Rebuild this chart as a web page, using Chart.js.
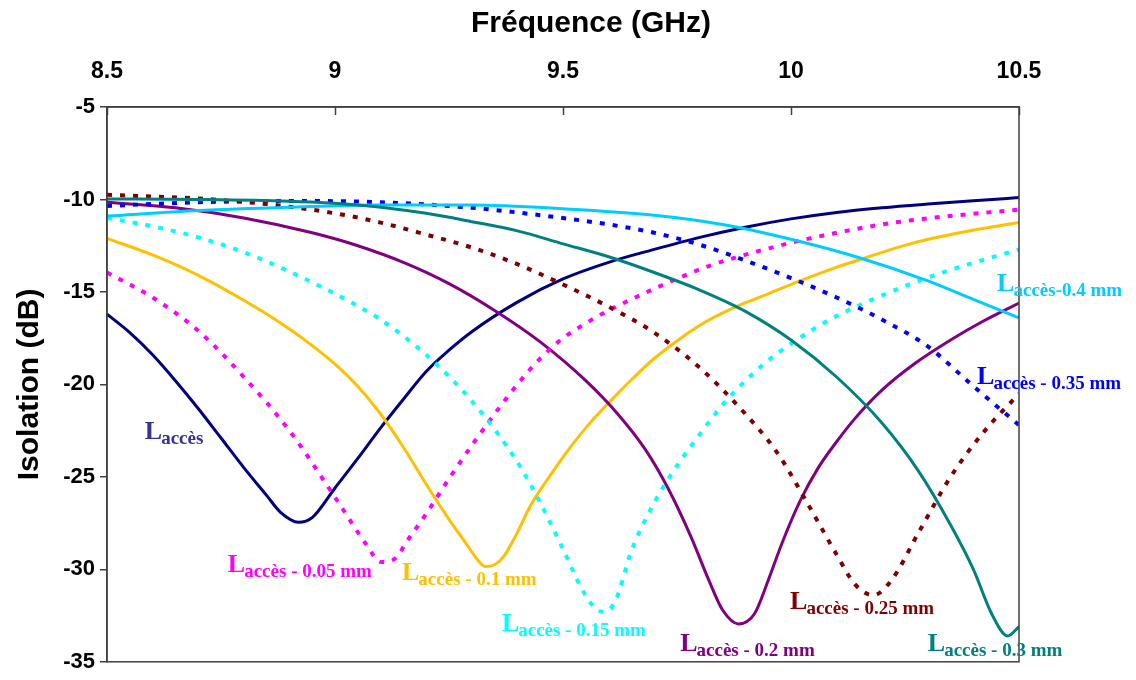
<!DOCTYPE html>
<html lang="fr">
<head>
<meta charset="utf-8">
<title>Isolation - longueur d'accès</title>
<script src="https://cdn.jsdelivr.net/npm/chart.js@4.4.1/dist/chart.umd.min.js"></script>
<style>
  html, body { margin: 0; padding: 0; background: #fff; }
  #chart { display: block; }
</style>
</head>
<body>
<canvas id="chart" width="1136" height="680"></canvas>
<script>
// axis ticks
const freqTicks = [8.5, 9, 9.5, 10, 10.5];
const isoTicks = [-35, -30, -25, -20, -15, -10, -5];

// curves: frequency (GHz) / isolation (dB)
const laccesF = [8.5, 8.55, 8.6, 8.65, 8.7, 8.75, 8.8, 8.85, 8.88, 8.92, 8.95, 9.0, 9.05, 9.1, 9.15, 9.2, 9.25, 9.3, 9.4, 9.5, 9.6, 9.7, 9.8, 9.9, 10.0, 10.1, 10.2, 10.3, 10.4, 10.5];
const laccesV = [-16.2, -17.2, -18.4, -19.8, -21.3, -22.9, -24.5, -26.0, -26.9, -27.45, -27.2, -25.6, -24.0, -22.35, -20.8, -19.3, -18.15, -17.15, -15.55, -14.3, -13.4, -12.7, -12.05, -11.5, -11.05, -10.7, -10.45, -10.25, -10.07, -9.9];

const l005F = [8.5, 8.6, 8.7, 8.8, 8.9, 9.0, 9.07, 9.10, 9.13, 9.16, 9.2, 9.25, 9.3, 9.35, 9.4, 9.45, 9.5, 9.55, 9.6, 9.65, 9.73, 9.82, 9.95, 10.09, 10.24, 10.39, 10.5];
const l005V = [-13.95, -15.3, -17.1, -19.6, -22.5, -26.1, -28.7, -29.6, -29.45, -28.4, -27.0, -25.1, -23.3, -21.6, -20.0, -18.6, -17.5, -16.7, -16.0, -15.4, -14.5, -13.6, -12.65, -11.85, -11.2, -10.8, -10.55];

const l010F = [8.5, 8.6, 8.7, 8.8, 8.9, 8.95, 9.0, 9.05, 9.1, 9.15, 9.2, 9.25, 9.29, 9.31, 9.33, 9.35, 9.37, 9.40, 9.43, 9.47, 9.51, 9.55, 9.60, 9.65, 9.70, 9.75, 9.80, 9.87, 9.95, 10.02, 10.09, 10.17, 10.24, 10.31, 10.39, 10.5];
const l010V = [-12.1, -13.0, -14.1, -15.45, -17.0, -17.9, -18.9, -20.1, -21.6, -23.4, -25.4, -27.3, -28.7, -29.4, -29.85, -29.75, -29.3, -28.0, -26.5, -25.0, -23.6, -22.35, -21.0, -19.75, -18.6, -17.65, -16.8, -15.9, -15.1, -14.4, -13.75, -13.1, -12.55, -12.1, -11.7, -11.25];

const l015F = [8.5, 8.6, 8.7, 8.8, 8.9, 9.0, 9.1, 9.2, 9.3, 9.4, 9.45, 9.5, 9.54, 9.57, 9.59, 9.615, 9.65, 9.70, 9.75, 9.80, 9.85, 9.90, 9.95, 10.0, 10.05, 10.1, 10.17, 10.28, 10.39, 10.5];
const l015V = [-11.0, -11.45, -12.05, -12.85, -13.9, -15.1, -16.5, -18.4, -20.9, -24.2, -26.4, -28.9, -31.0, -32.1, -32.3, -31.7, -29.0, -26.4, -24.4, -22.7, -21.1, -19.8, -18.7, -17.8, -17.0, -16.3, -15.5, -14.4, -13.5, -12.7];

const l020F = [8.5, 8.65, 8.8, 8.95, 9.05, 9.15, 9.25, 9.35, 9.45, 9.55, 9.62, 9.68, 9.73, 9.78, 9.82, 9.85, 9.885, 9.92, 9.95, 9.98, 10.02, 10.06, 10.1, 10.14, 10.2, 10.27, 10.35, 10.42, 10.5];
const l020V = [-10.15, -10.45, -11.0, -11.8, -12.5, -13.4, -14.55, -16.0, -17.7, -19.8, -21.6, -23.5, -25.6, -28.2, -30.6, -32.2, -32.95, -32.4, -30.6, -28.6, -26.3, -24.5, -23.1, -21.85, -20.3, -18.9, -17.6, -16.6, -15.6];

const l025F = [8.5, 8.7, 8.85, 9.0, 9.1, 9.2, 9.3, 9.4, 9.5, 9.6, 9.7, 9.8, 9.9, 9.97, 10.04, 10.1, 10.14, 10.18, 10.22, 10.28, 10.35, 10.42, 10.5];
const l025V = [-9.75, -9.95, -10.25, -10.75, -11.25, -11.9, -12.6, -13.5, -14.6, -15.8, -17.2, -19.1, -21.6, -23.7, -26.6, -29.2, -30.8, -31.4, -30.6, -28.0, -25.0, -22.65, -20.5];

const l030F = [8.5, 8.7, 8.9, 9.05, 9.2, 9.3, 9.4, 9.5, 9.6, 9.7, 9.8, 9.9, 10.0, 10.1, 10.2, 10.28, 10.35, 10.4, 10.44, 10.475, 10.5];
const l030V = [-9.97, -10.0, -10.1, -10.3, -10.75, -11.2, -11.7, -12.4, -13.1, -13.95, -14.9, -16.05, -17.6, -19.6, -22.1, -24.7, -27.6, -30.0, -32.4, -33.6, -33.1];

const l035F = [8.5, 8.7, 8.9, 9.1, 9.3, 9.45, 9.6, 9.7, 9.8, 9.9, 10.0, 10.1, 10.2, 10.3, 10.4, 10.5];
const l035V = [-10.35, -10.15, -10.08, -10.15, -10.45, -10.85, -11.35, -11.8, -12.45, -13.3, -14.25, -15.3, -16.5, -17.95, -20.1, -22.2];

const l040F = [8.5, 8.7, 8.9, 9.1, 9.3, 9.5, 9.7, 9.85, 10.0, 10.15, 10.3, 10.4, 10.5];
const l040V = [-10.9, -10.6, -10.42, -10.3, -10.3, -10.5, -10.85, -11.35, -12.15, -13.15, -14.4, -15.4, -16.4];

const FONT = '"Liberation Sans", Arial, sans-serif';
const SERIF = '"Liberation Serif", "Times New Roman", serif';
const DOTS = [5, 8];

const series = [
  { f: l030F, v: l030V, color: '#008080', dash: [] },
  { f: l040F, v: l040V, color: '#00CCFF', dash: [] },
  { f: l025F, v: l025V, color: '#800000', dash: DOTS },
  { f: l035F, v: l035V, color: '#0000FF', dash: DOTS },
  { f: l015F, v: l015V, color: '#00FFFF', dash: DOTS },
  { f: l005F, v: l005V, color: '#FF00FF', dash: DOTS },
  { f: l020F, v: l020V, color: '#800080', dash: [] },
  { f: l010F, v: l010V, color: '#FFC000', dash: [] },
  { f: laccesF, v: laccesV, color: '#000080', dash: [] }
];

// text labels next to the curves, anchored in data units
const curveLabels = [
  { f: 8.583, v: -22.97, sub: 'accès', color: '#333399' },
  { f: 8.765, v: -30.13, sub: 'accès - 0.05 mm', color: '#FF00FF' },
  { f: 9.147, v: -30.6, sub: 'accès - 0.1 mm', color: '#FFC000' },
  { f: 9.366, v: -33.34, sub: 'accès - 0.15 mm', color: '#00FFFF' },
  { f: 9.757, v: -34.41, sub: 'accès - 0.2 mm', color: '#800080' },
  { f: 9.998, v: -32.17, sub: 'accès - 0.25 mm', color: '#800000' },
  { f: 10.30, v: -34.41, sub: 'accès - 0.3 mm', color: '#008080' },
  { f: 10.408, v: -19.97, sub: 'accès - 0.35 mm', color: '#0000FF' },
  { f: 10.452, v: -14.95, sub: 'accès-0.4 mm', color: '#00CCFF' }
];

const decor = {
  id: 'decor',
  afterDatasetsDraw(chart) {
    const { ctx, chartArea: a, scales: { x, y } } = chart;
    ctx.save();
    ctx.strokeStyle = '#404040';
    ctx.lineWidth = 1.5;
    ctx.strokeRect(a.left, a.top, a.right - a.left, a.bottom - a.top);
    // frequency ticks point down into the plot
    freqTicks.forEach(f => {
      const px = Math.round(x.getPixelForValue(f)) + 0.5;
      ctx.beginPath();
      ctx.moveTo(px, a.top);
      ctx.lineTo(px, a.top + 8);
      ctx.stroke();
    });
    // axis title sits a bit right of the plot centre, as in the original
    ctx.fillStyle = '#000';
    ctx.font = 'bold 30px ' + FONT;
    ctx.textAlign = 'center';
    ctx.textBaseline = 'middle';
    ctx.fillText('Fréquence (GHz)', (a.left + a.right) / 2 + 28, 24);

    ctx.textAlign = 'left';
    ctx.textBaseline = 'alphabetic';
    curveLabels.forEach(l => {
      const px = x.getPixelForValue(l.f);
      const py = y.getPixelForValue(l.v);
      ctx.fillStyle = l.color;
      ctx.font = 'bold 26px ' + SERIF;
      ctx.fillText('L', px, py);
      const w = ctx.measureText('L').width;
      ctx.font = 'bold 19px ' + SERIF;
      ctx.fillText(l.sub, px + w - 1, py + 5);
    });
    ctx.restore();
  }
};

new Chart(document.getElementById('chart'), {
  type: 'line',
  data: {
    datasets: series.map(s => ({
      data: s.f.map((f, i) => ({ x: f, y: s.v[i] })),
      borderColor: s.color,
      borderWidth: s.dash.length ? 4 : 3,
      borderDash: s.dash,
      pointRadius: 0,
      fill: false,
      cubicInterpolationMode: 'monotone'
    }))
  },
  options: {
    responsive: false,
    animation: false,
    layout: { padding: { left: 0, top: 0, right: 117, bottom: 12 } },
    plugins: { legend: { display: false }, tooltip: { enabled: false } },
    scales: {
      x: {
        type: 'linear',
        position: 'top',
        min: 8.5,
        max: 10.5,
        afterBuildTicks: s => { s.ticks = freqTicks.map(v => ({ value: v })); },
        afterFit: s => { s.height = 107; },
        grid: { drawOnChartArea: false, drawTicks: false },
        border: { display: true, color: '#404040', width: 1.5 },
        ticks: {
          padding: 22, color: '#000', maxRotation: 0, autoSkip: false,
          font: { family: FONT, size: 23, weight: 'bold' },
          callback: v => String(v)
        },
        title: { display: false }
      },
      y: {
        min: -35,
        max: -5,
        afterBuildTicks: s => { s.ticks = isoTicks.map(v => ({ value: v })); },
        afterFit: s => { s.width = 107; },
        grid: { drawOnChartArea: false, drawTicks: true, tickLength: 7, color: '#404040', lineWidth: 1.5 },
        border: { display: true, color: '#404040', width: 1.5 },
        ticks: {
          padding: 5, color: '#000',
          font: { family: FONT, size: 22, weight: 'bold' },
          callback: v => String(v)
        },
        title: {
          display: true, text: 'Isolation (dB)', color: '#000',
          font: { family: FONT, size: 30, weight: 'bold' },
          padding: { top: 12, bottom: 0 }
        }
      }
    }
  },
  plugins: [decor]
});
</script>
</body>
</html>
